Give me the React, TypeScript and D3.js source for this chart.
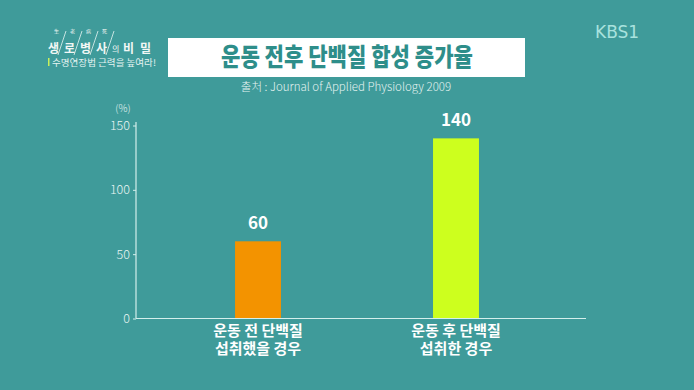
import React, { useEffect, useRef } from "react";
import * as d3 from "d3";

// chart data
const categories = ["pre", "post"];
const categoryLines = [
  ["운동 전 단백질", "섭취했을 경우"],
  ["운동 후 단백질", "섭취한 경우"],
];
const values = [60, 140];
const barColors = ["#f39300", "#cdff1e"];
const yTicks = [0, 50, 100, 150];

const title = "운동 전후 단백질 합성 증가율";
const source = "출처 : Journal of Applied Physiology 2009";

const W = 694;
const H = 390;
const KR = "'Noto Sans CJK KR', 'Noto Sans', sans-serif";

export default function App() {
  const ref = useRef<SVGSVGElement | null>(null);

  useEffect(() => {
    document.body.style.margin = "0";
    if (!ref.current) return;
    const svg = d3.select(ref.current);
    svg.selectAll("*").remove();

    // background
    svg.append("rect").attr("width", W).attr("height", H).attr("fill", "#3f9b9a");

    // broadcaster mark
    svg
      .append("text")
      .attr("x", 595)
      .attr("y", 38)
      .attr("font-family", "'DejaVu Sans', sans-serif")
      .attr("font-size", 17)
      .attr("fill", "#a9e2de")
      .text("KBS1");

    // programme logo (top left)
    const logo = svg.append("g").attr("fill", "#f2f7f5");
    const big = ["생", "로", "병", "사"];
    big.forEach((ch, i) => {
      logo
        .append("text")
        .attr("x", 48 + i * 16)
        .attr("y", 53)
        .attr("font-family", "'Noto Sans CJK KR', serif")
        .attr("font-weight", 700)
        .attr("font-size", 12)
        .text(ch);
      logo
        .append("text")
        .attr("x", 54 + i * 16)
        .attr("y", 33)
        .attr("font-family", KR)
        .attr("font-size", 5)
        .text("生老病死"[i]);
      logo
        .append("line")
        .attr("x1", 58 + i * 16)
        .attr("y1", 55)
        .attr("x2", 66 + i * 16)
        .attr("y2", 31)
        .attr("stroke", "#e6f4f2")
        .attr("stroke-width", 0.8);
    });
    logo
      .append("text")
      .attr("x", 112)
      .attr("y", 52)
      .attr("font-family", KR)
      .attr("font-size", 8)
      .text("의");
    logo
      .append("text")
      .attr("x", 123)
      .attr("y", 53)
      .attr("font-family", "'Noto Sans CJK KR', serif")
      .attr("font-weight", 700)
      .attr("font-size", 12)
      .attr("letter-spacing", 6)
      .text("비밀");
    logo
      .append("rect")
      .attr("x", 48)
      .attr("y", 58)
      .attr("width", 1.5)
      .attr("height", 8)
      .attr("fill", "#c9f05a");
    logo
      .append("text")
      .attr("x", 52)
      .attr("y", 65.5)
      .attr("font-family", KR)
      .attr("font-size", 9)
      .attr("fill", "#e6f4f2")
      .attr("textLength", 104)
      .attr("lengthAdjust", "spacingAndGlyphs")
      .text("수명연장법 근력을 높여라!");

    // title box
    svg
      .append("rect")
      .attr("x", 168)
      .attr("y", 38)
      .attr("width", 357)
      .attr("height", 39)
      .attr("fill", "#ffffff");
    svg
      .append("text")
      .attr("x", 347)
      .attr("y", 66)
      .attr("text-anchor", "middle")
      .attr("font-family", KR)
      .attr("font-weight", 900)
      .attr("font-size", 25)
      .attr("fill", "#2e8e8a")
      .attr("textLength", 252)
      .attr("lengthAdjust", "spacingAndGlyphs")
      .text(title);
    svg
      .append("text")
      .attr("x", 346)
      .attr("y", 91)
      .attr("text-anchor", "middle")
      .attr("font-family", KR)
      .attr("font-weight", 300)
      .attr("font-size", 11.5)
      .attr("fill", "#e4f3f1")
      .text(source);

    // scales
    const x = d3
      .scaleBand<string>()
      .domain(categories)
      .range([159, 555])
      .paddingInner(0.768)
      .paddingOuter(0.384);
    const y = d3.scaleLinear().domain([0, 150]).range([318.5, 125.5]);

    const axisColor = "#d4efec";

    // y axis
    const yAxis = svg
      .append("g")
      .attr("transform", "translate(136,0)")
      .call(d3.axisLeft(y).tickValues(yTicks).tickSize(3).tickSizeOuter(0) as any);
    yAxis.select(".domain").remove();
    yAxis.selectAll(".tick line").attr("stroke", axisColor);
    yAxis
      .selectAll(".tick text")
      .attr("x", -6)
      .attr("fill", "#eaf6f4")
      .attr("font-family", KR)
      .attr("font-weight", 300)
      .attr("font-size", 12.5);
    svg
      .append("line")
      .attr("x1", 136)
      .attr("x2", 136)
      .attr("y1", 122)
      .attr("y2", y(0))
      .attr("stroke", axisColor)
      .attr("stroke-width", 1.2);
    svg
      .append("text")
      .attr("x", 123)
      .attr("y", 112)
      .attr("text-anchor", "middle")
      .attr("font-family", KR)
      .attr("font-weight", 300)
      .attr("font-size", 10)
      .attr("fill", "#e4f3f1")
      .text("(%)");

    // bars
    svg
      .selectAll(".bar")
      .data(values)
      .join("rect")
      .attr("class", "bar")
      .attr("x", (_, i) => x(categories[i])!)
      .attr("y", d => y(d))
      .attr("width", x.bandwidth())
      .attr("height", d => y(0) - y(d))
      .attr("fill", (_, i) => barColors[i]);

    // value labels
    svg
      .selectAll(".bar-value")
      .data(values)
      .join("text")
      .attr("class", "bar-value")
      .attr("x", (_, i) => x(categories[i])! + x.bandwidth() / 2)
      .attr("y", d => y(d) - 12)
      .attr("text-anchor", "middle")
      .attr("font-family", KR)
      .attr("font-weight", 700)
      .attr("font-size", 17)
      .attr("fill", "#ffffff")
      .text(d => d);

    // x axis line
    svg
      .append("line")
      .attr("x1", 136)
      .attr("x2", 586)
      .attr("y1", y(0))
      .attr("y2", y(0))
      .attr("stroke", axisColor)
      .attr("stroke-width", 1.2);

    // category labels
    categories.forEach((c, i) => {
      const t = svg
        .append("text")
        .attr("text-anchor", "middle")
        .attr("font-family", KR)
        .attr("font-weight", 700)
        .attr("font-size", 15)
        .attr("fill", "#ffffff");
      categoryLines[i].forEach((line, j) => {
        t.append("tspan")
          .attr("x", x(c)! + x.bandwidth() / 2)
          .attr("y", 336 + j * 18)
          .text(line);
      });
    });
  }, []);

  return (
    <svg
      ref={ref}
      width={W}
      height={H}
      style={{ display: "block", position: "absolute", left: 0, top: 0 }}
    />
  );
}
